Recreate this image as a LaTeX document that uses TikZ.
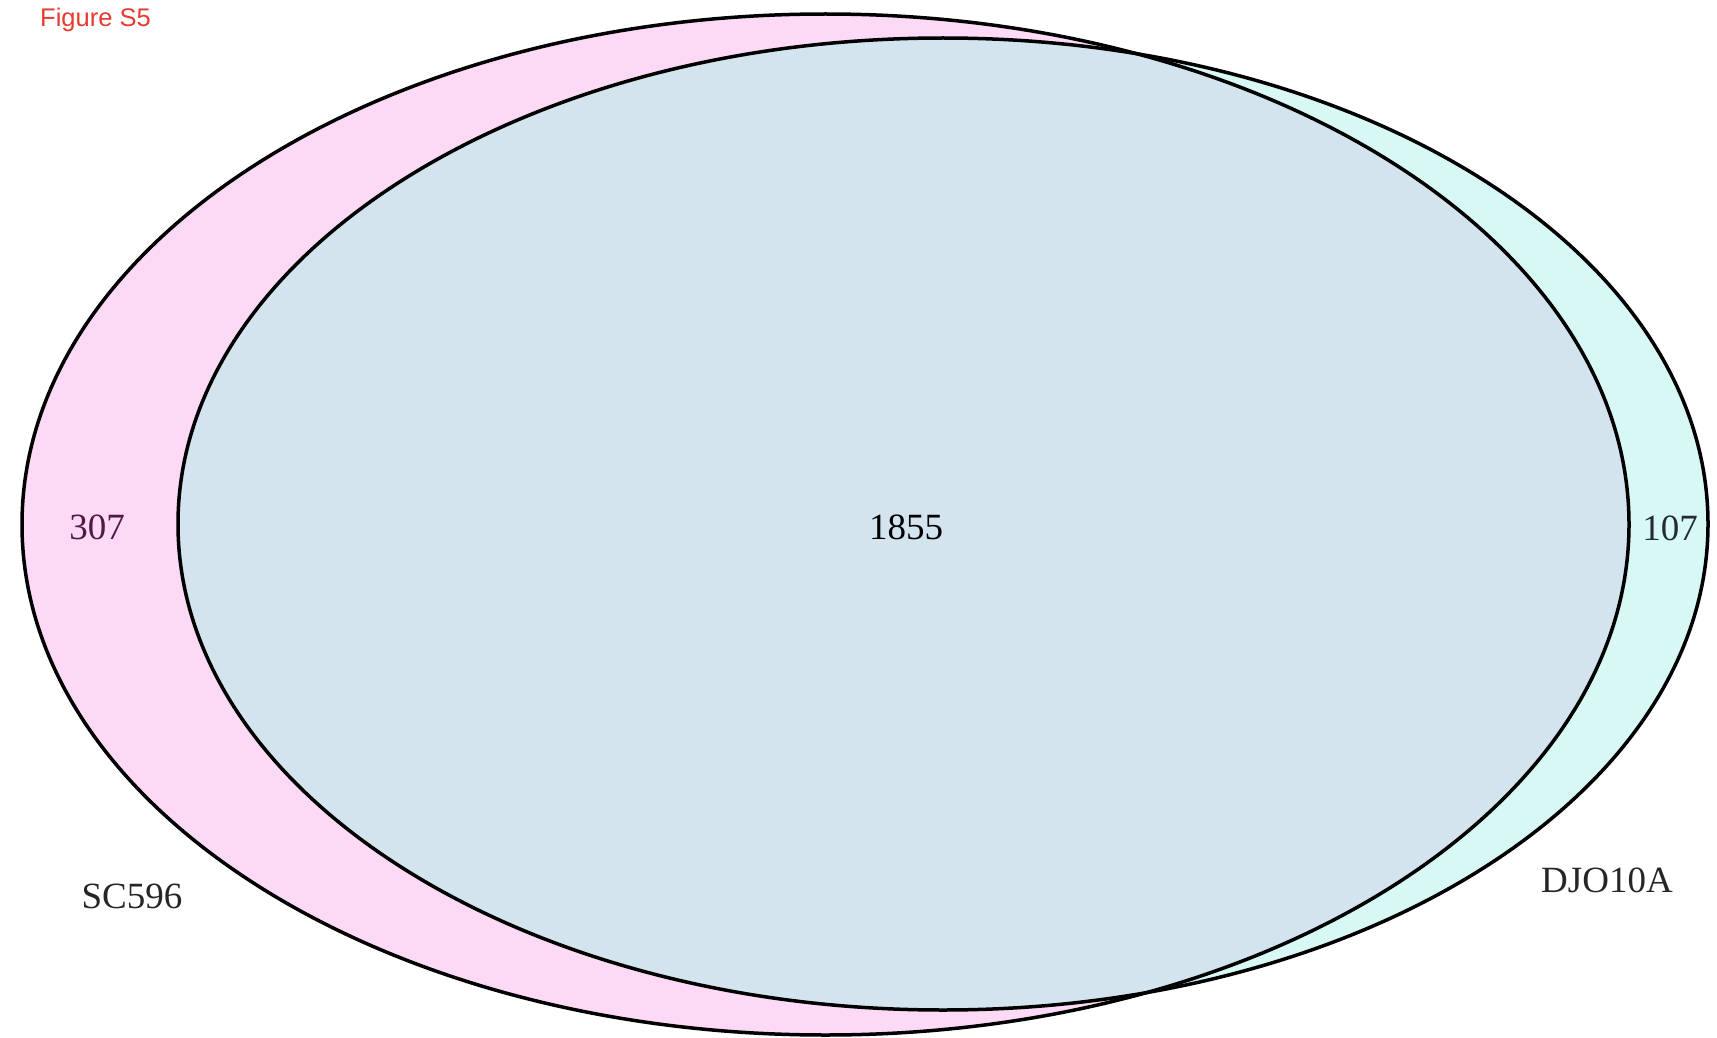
\documentclass[tikz,border=0pt]{standalone}
\usepackage{fontspec}
\setmainfont{Liberation Serif}
\newfontfamily\figsans{Liberation Sans}
\definecolor{pinkfill}{RGB}{252,218,246}
\definecolor{cyanfill}{RGB}{216,248,246}
\definecolor{bothfill}{RGB}{211,228,238}
\definecolor{numpurple}{RGB}{80,25,70}
\definecolor{numdark}{RGB}{35,45,45}
\definecolor{figred}{RGB}{232,58,48}
\tikzset{
  vennline/.style={draw=black, line width=3.5pt},
  vlabel/.style={font=\fontsize{37}{40}\selectfont, inner sep=0pt},
}
\begin{document}
\begin{tikzpicture}[x=1pt,y=-1pt]
\useasboundingbox (0,0) rectangle (1717,1038);
\fill[white] (0,0) rectangle (1717,1038);
% sets
\fill[pinkfill] (825.5,524.5) ellipse [x radius=803.5, y radius=510.5];
\fill[cyanfill] (943,524) ellipse [x radius=765, y radius=486];
\begin{scope}
  \clip (825.5,524.5) ellipse [x radius=803.5, y radius=510.5];
  \fill[bothfill] (943,524) ellipse [x radius=765, y radius=486];
\end{scope}
\draw[vennline] (825.5,524.5) ellipse [x radius=803.5, y radius=510.5];
\draw[vennline] (943,524) ellipse [x radius=765, y radius=486];
% labels
\node[vlabel, text=numpurple] (left) at (97,527) {307};
\node[vlabel, text=black] (mid) at (906,527) {1855};
\node[vlabel, text=numdark] (right) at (1670,528) {107};
\node[vlabel, text=black!85] (sc) at (132,896) {SC596};
\node[vlabel, text=black!85] (djo) at (1607,880) {DJO10A};
\node[font=\figsans\fontsize{25.5}{28}\selectfont, text=figred, anchor=base west, inner sep=0pt] (fig) at (40,27) {Figure S5};
\end{tikzpicture}
\end{document}
